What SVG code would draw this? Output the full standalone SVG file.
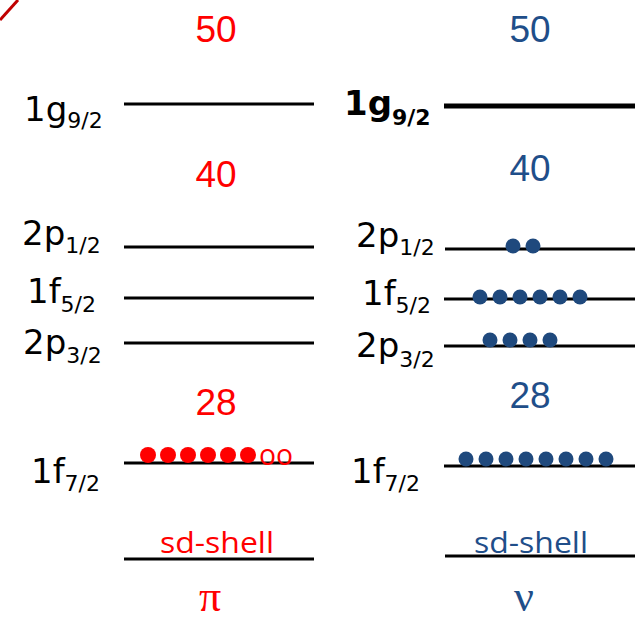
<svg xmlns="http://www.w3.org/2000/svg" width="635" height="621" viewBox="0 0 635 621">
<style>
.lv{stroke:#000;stroke-width:3;fill:none}
.lab{font-family:"DejaVu Sans",sans-serif;font-size:34px;fill:#000}
.sub{font-size:22px}
.num{font-family:"Liberation Sans",Arial,sans-serif;font-size:37px;text-anchor:middle}
.red{fill:#FF0000}
.blue{fill:#1F4E89}
.bd{fill:#1F497D}
.rd{fill:#FF0000}
.sd{font-family:"Open Sans","Liberation Sans",sans-serif;font-size:30px}
.gr{font-family:"Liberation Serif","Times New Roman",serif;font-size:44px;text-anchor:middle}
</style>
<rect width="635" height="621" fill="#fff"/>
<line x1="0" y1="20" x2="18" y2="0" stroke="#C00000" stroke-width="3"/>
<g id="connectors">
<line class="lv" x1="124" y1="104" x2="314" y2="104"/>
<line class="lv" x1="124" y1="247" x2="314" y2="247"/>
<line class="lv" x1="124" y1="298" x2="314" y2="298"/>
<line class="lv" x1="124" y1="343" x2="314" y2="343"/>
<line class="lv" x1="124" y1="463" x2="314" y2="463"/>
<line class="lv" x1="124" y1="559" x2="314" y2="559"/>
<line x1="444" y1="106" x2="635" y2="106" stroke="#000" stroke-width="5"/>
<line class="lv" x1="445" y1="249" x2="635" y2="249"/>
<line class="lv" x1="444" y1="299" x2="635" y2="299"/>
<line class="lv" x1="444" y1="346" x2="635" y2="346"/>
<line class="lv" x1="444" y1="466" x2="635" y2="466"/>
<line class="lv" x1="445" y1="556" x2="635" y2="556"/>
</g>
<g id="magic-pi">
<text class="num red" x="216" y="42">50</text>
<text class="num red" x="216" y="187">40</text>
<text class="num red" x="216" y="415">28</text>
</g>
<g id="magic-nu">
<text class="num blue" x="530" y="42">50</text>
<text class="num blue" x="530" y="181">40</text>
<text class="num blue" x="530" y="408">28</text>
</g>
<g id="labels-pi">
<text class="lab" x="24" y="121">1g<tspan class="sub" dy="7">9/2</tspan></text>
<text class="lab" x="22" y="245">2p<tspan class="sub" dy="8">1/2</tspan></text>
<text class="lab" x="27" y="303">1f<tspan class="sub" dy="9">5/2</tspan></text>
<text class="lab" x="23" y="354">2p<tspan class="sub" dy="9">3/2</tspan></text>
<text class="lab" x="31" y="483">1f<tspan class="sub" dy="8">7/2</tspan></text>
</g>
<g id="labels-nu">
<text class="lab" x="344" y="115" font-weight="bold" font-size="35">1g<tspan class="sub" dy="10" font-size="24">9/2</tspan></text>
<text class="lab" x="356" y="247">2p<tspan class="sub" dy="8">1/2</tspan></text>
<text class="lab" x="362" y="305">1f<tspan class="sub" dy="8">5/2</tspan></text>
<text class="lab" x="356" y="357">2p<tspan class="sub" dy="10">3/2</tspan></text>
<text class="lab" x="351" y="483">1f<tspan class="sub" dy="8">7/2</tspan></text>
</g>
<g id="occupancy-pi">
<circle class="rd" cx="148" cy="455" r="8"/>
<circle class="rd" cx="168" cy="455" r="8"/>
<circle class="rd" cx="188" cy="455" r="8"/>
<circle class="rd" cx="208" cy="455" r="8"/>
<circle class="rd" cx="228" cy="455" r="8"/>
<circle class="rd" cx="248" cy="455" r="8"/>
<text x="259" y="465" font-family="Open Sans,Liberation Sans,sans-serif" font-size="30" fill="#FF0000" textLength="34" lengthAdjust="spacingAndGlyphs">oo</text>
</g>
<g id="occupancy-nu">
<circle class="bd" cx="513" cy="246" r="7.5"/>
<circle class="bd" cx="533" cy="246" r="7.5"/>
<circle class="bd" cx="480" cy="297" r="7.5"/>
<circle class="bd" cx="500" cy="297" r="7.5"/>
<circle class="bd" cx="520" cy="297" r="7.5"/>
<circle class="bd" cx="540" cy="297" r="7.5"/>
<circle class="bd" cx="560" cy="297" r="7.5"/>
<circle class="bd" cx="580" cy="297" r="7.5"/>
<circle class="bd" cx="490" cy="340" r="7.5"/>
<circle class="bd" cx="510" cy="340" r="7.5"/>
<circle class="bd" cx="530" cy="340" r="7.5"/>
<circle class="bd" cx="550" cy="340" r="7.5"/>
<circle class="bd" cx="466" cy="459" r="7.5"/>
<circle class="bd" cx="486" cy="459" r="7.5"/>
<circle class="bd" cx="506" cy="459" r="7.5"/>
<circle class="bd" cx="526" cy="459" r="7.5"/>
<circle class="bd" cx="546" cy="459" r="7.5"/>
<circle class="bd" cx="566" cy="459" r="7.5"/>
<circle class="bd" cx="586" cy="459" r="7.5"/>
<circle class="bd" cx="606" cy="459" r="7.5"/>
</g>
<g id="sd-pi">
<text class="sd red" x="160" y="553" textLength="114" lengthAdjust="spacingAndGlyphs">sd-shell</text>
</g>
<g id="sd-nu">
<text class="sd blue" x="474" y="553" textLength="114" lengthAdjust="spacingAndGlyphs">sd-shell</text>
</g>
<g id="pi">
<text class="gr red" x="210" y="611">π</text>
</g>
<g id="nu">
<text class="gr blue" x="524" y="611">ν</text>
</g>
</svg>
